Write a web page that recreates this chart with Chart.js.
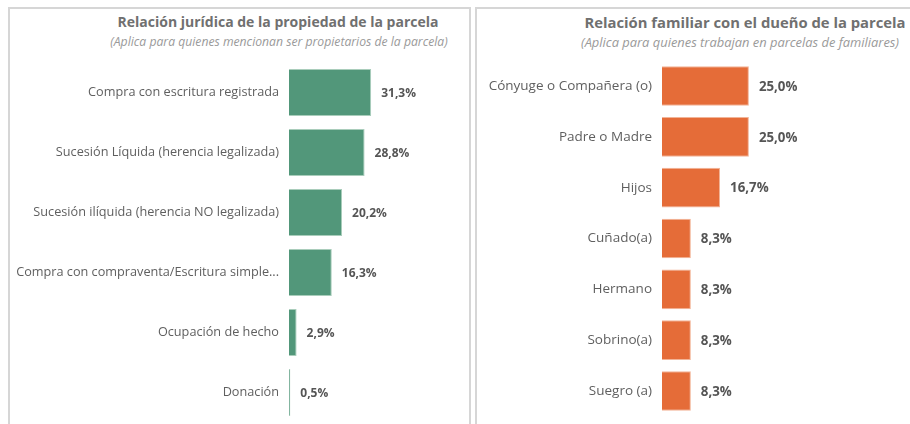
<!DOCTYPE html>
<html lang="es">
<head>
<meta charset="UTF-8">
<title>Relación con la parcela</title>
<script src="https://cdn.jsdelivr.net/npm/chart.js"></script>
<style>
  body { margin: 0; background: #fff; font-family: "Open Sans", sans-serif; }
  .panel { position: absolute; top: 7px; height: 440px; border: 2px solid #d6d6d6; border-bottom: none; box-sizing: border-box; }
  #p1 { left: 8px; width: 463px; }
  #p2 { left: 475px; width: 460px; border-right: none; }
  .title { position: absolute; width: 460px; text-align: center; color: #707070; font-weight: bold; line-height: 16px; white-space: nowrap; }
  .sub { position: absolute; width: 460px; text-align: center; color: #9a9a9a; font-style: italic; line-height: 14px; white-space: nowrap; }
  canvas { position: absolute; }
</style>
</head>
<body>

<div class="panel" id="p1"></div>
<div class="panel" id="p2"></div>

<div class="title" style="left:48px; top:14px; font-size:14px;">Relación jurídica de la propiedad de la parcela</div>
<div class="sub" style="left:49px; top:35px; font-size:12.2px;">(Aplica para quienes mencionan ser propietarios de la parcela)</div>
<div class="title" style="left:515px; top:14px; font-size:14.8px;">Relación familiar con el dueño de la parcela</div>
<div class="sub" style="left:510px; top:35px; font-size:12.9px;">(Aplica para quienes trabajan en parcelas de familiares)</div>

<canvas id="chartA" width="459" height="416" style="left:10px; top:8px;"></canvas>
<canvas id="chartB" width="432" height="416" style="left:478px; top:8px;"></canvas>

<script>
  // datos del gráfico izquierdo
  const tiposPropiedad = [
    "Compra con escritura registrada",
    "Sucesión Líquida (herencia legalizada)",
    "Sucesión ilíquida (herencia NO legalizada)",
    "Compra con compraventa/Escritura simple...",
    "Ocupación de hecho",
    "Donación"
  ];
  const pctPropiedad = [31.3, 28.8, 20.2, 16.3, 2.9, 0.5];

  // datos del gráfico derecho
  const parentescos = [
    "Cónyuge o Compañera (o)",
    "Padre o Madre",
    "Hijos",
    "Cuñado(a)",
    "Hermano",
    "Sobrino(a)",
    "Suegro (a)"
  ];
  const pctParentesco = [25.0, 25.0, 16.7, 8.3, 8.3, 8.3, 8.3];

  // etiqueta de valor al final de cada barra
  const valueLabels = {
    id: "valueLabels",
    afterDatasetsDraw(chart, args, opts) {
      const ctx = chart.ctx;
      const meta = chart.getDatasetMeta(0);
      ctx.save();
      ctx.font = "bold " + opts.size + "px 'Open Sans'";
      ctx.fillStyle = "#555555";
      ctx.textAlign = "left";
      ctx.textBaseline = "middle";
      meta.data.forEach((bar, i) => {
        const v = chart.data.datasets[0].data[i];
        ctx.fillText(v.toFixed(1).replace(".", ",") + "%", bar.x + 10, bar.y + 1);
      });
      ctx.restore();
    }
  };

  function makeChart(id, labels, values, color, edge, axisWidth, pad, fontSize, valueSize) {
    return new Chart(document.getElementById(id), {
      type: "bar",
      data: {
        labels: labels,
        datasets: [{
          data: values,
          backgroundColor: color,
          borderColor: edge,
          borderWidth: 1,
          barPercentage: 0.78,
          categoryPercentage: 1
        }]
      },
      options: {
        indexAxis: "y",
        responsive: false,
        animation: false,
        layout: { padding: pad },
        plugins: {
          legend: { display: false },
          tooltip: { enabled: false },
          valueLabels: { size: valueSize }
        },
        scales: {
          x: { display: false, min: 0, max: 40 },
          y: {
            grid: { display: false, drawTicks: false },
            border: { display: false },
            ticks: { color: "#5f5f5f", font: { family: "Open Sans", size: fontSize }, padding: 10, autoSkip: false },
            afterFit(scale) {
              scale.width = axisWidth;
              scale.paddingTop = 0;
              scale.paddingBottom = 0;
            }
          }
        }
      },
      plugins: [valueLabels]
    });
  }

  makeChart("chartA", tiposPropiedad, pctPropiedad, "#52977a", "#a9cdbb", 279,
    { top: 54.5, bottom: 1.5, left: 0, right: 75 }, 12.7, 12);
  makeChart("chartB", parentescos, pctParentesco, "#e56c38", "#f2b497", 184,
    { top: 52.6, bottom: 7.6, left: 0, right: 109 }, 13.5, 13.3);
</script>
</body>
</html>
